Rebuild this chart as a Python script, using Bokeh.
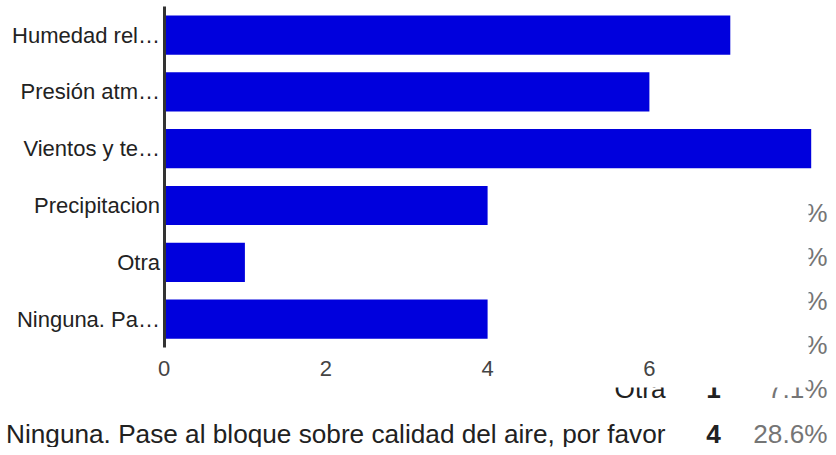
from bokeh.plotting import figure
from bokeh.models import Range1d, FixedTicker, ColumnDataSource
from bokeh.core.properties import value
from bokeh.embed import file_html
from bokeh.resources import INLINE

# ---- data ----
categories = ["Humedad relativa", "Presión atmosférica", "Vientos y temperatura",
              "Precipitacion", "Otra",
              "Ninguna. Pase al bloque sobre calidad del aire, por favor"]
axis_labels = ["Humedad rel…", "Presión atm…", "Vientos y te…",
               "Precipitacion", "Otra", "Ninguna. Pa…"]
counts = [7, 6, 8, 4, 1, 4]
percents = ["50%", "42.9%", "57.1%", "28.6%", "7.1%", "28.6%"]
x_ticks = [0, 2, 4, 6]

# ---- geometry (figure pixels) ----
W, H = 828, 447
PX_X, PX_Y = 80.9, 56.8       # pixels per unit
X0, Y0 = 163.5, 347.0         # pixel position of data (0, 0)
n = len(categories)
ys = [n - i - 0.5 for i in range(n)]


def sx(px):
    return (px - X0) / PX_X


def sy(py):
    return (Y0 - py) / PX_Y


x_start, x_end = sx(0), sx(W)
y_start, y_end = sy(H), sy(0)

p = figure(width=W, height=H, x_range=Range1d(x_start, x_end),
           y_range=Range1d(y_start, y_end),
           output_backend="svg", toolbar_location=None,
           min_border_left=0, min_border_right=0, min_border_top=0,
           min_border_bottom=0)
p.outline_line_color = None
p.background_fill_color = "white"
p.border_fill_color = "white"
p.xgrid.visible = False
p.ygrid.visible = False

FONT = "Liberation Sans"
TABLE_SIZE = "26.2px"

# ---- background table (partly hidden behind the chart) ----
row_base0, row_step = 212.0, 44.2
table = ColumnDataSource(dict(
    lx=[sx(665)] * n, cx=[sx(713)] * n, px=[sx(827)] * n,
    y=[sy(row_base0 + i * row_step) for i in range(n)],
    cat=categories, cnt=[str(c) for c in counts], pct=percents))
p.text(x="lx", y="y", text="cat", source=table, text_align="right",
       text_baseline="alphabetic", text_font=value(FONT), text_font_size=TABLE_SIZE,
       text_color="#212121")
p.text(x="cx", y="y", text="cnt", source=table, text_align="center",
       text_baseline="alphabetic", text_font=value(FONT), text_font_size=TABLE_SIZE,
       text_font_style="bold", text_color="#212121")
p.text(x="px", y="y", text="pct", source=table, text_align="right",
       text_baseline="alphabetic", text_font=value(FONT), text_font_size=TABLE_SIZE,
       text_color="#757575")

# white chart area that lies over the table
p.quad(left=[x_start - 1], right=[sx(808)], top=[y_end + 1], bottom=[sy(387)],
       fill_color="white", line_color=None)

# ---- bars ----
src = ColumnDataSource(dict(y=ys, count=counts, cat=categories))
p.hbar(y="y", left=0, right="count", height=0.69, source=src,
       fill_color="#0000dd", line_color=None)

# ---- axes ----
ya = p.yaxis[0]
ya.fixed_location = 0
ya.bounds = (0, sy(6))
ya.ticker = FixedTicker(ticks=ys)
ya.major_label_overrides = {y: lab for y, lab in zip(ys, axis_labels)}
ya.axis_line_color = "#333333"
ya.axis_line_width = 3
ya.major_tick_line_color = None
ya.minor_tick_line_color = None
ya.major_tick_out = 0
ya.major_tick_in = 0
ya.major_label_standoff = 4
ya.major_label_text_font = FONT
ya.major_label_text_font_size = "22px"
ya.major_label_text_color = "#222222"

xa = p.xaxis[0]
xa.fixed_location = 0
xa.ticker = FixedTicker(ticks=x_ticks)
xa.axis_line_color = None
xa.major_tick_line_color = None
xa.minor_tick_line_color = None
xa.major_tick_out = 0
xa.major_tick_in = 0
xa.major_label_standoff = 13
xa.major_label_text_font = FONT
xa.major_label_text_font_size = "22px"
xa.major_label_text_color = "#444444"

open("out.html", "w").write(file_html(p, INLINE))
